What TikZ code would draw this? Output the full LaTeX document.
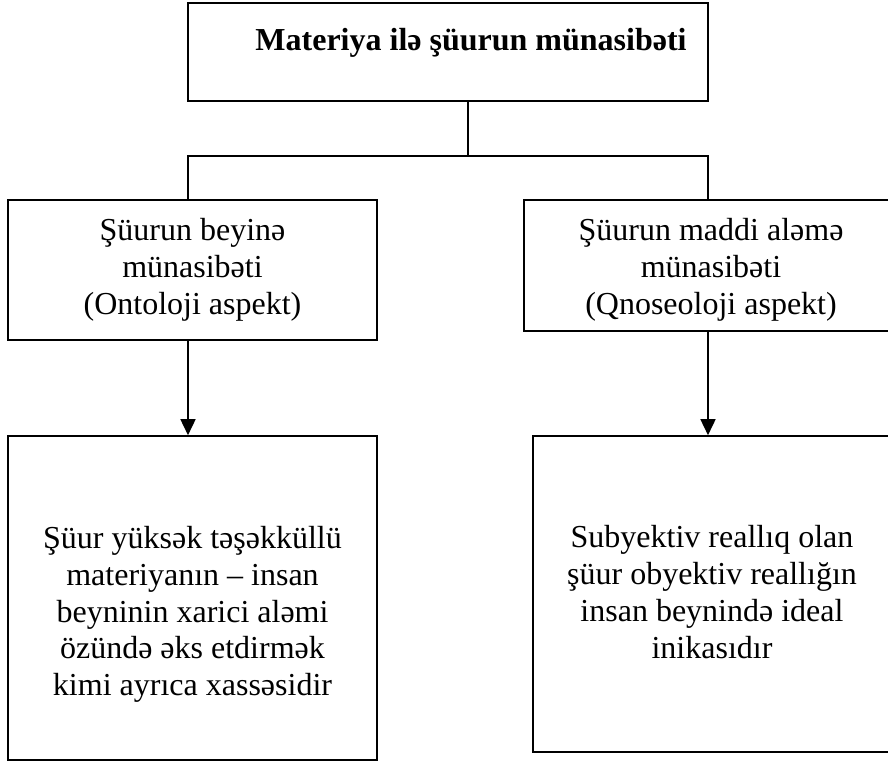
\documentclass[tikz,border=0pt]{standalone}
\usepackage{fontspec}
\setmainfont{Liberation Serif}
\usetikzlibrary{arrows.meta}
\begin{document}
\begin{tikzpicture}[x=1pt,y=-1pt,
  boxy/.style={draw, line width=1.6pt, inner sep=0pt},
  txt/.style={align=center, inner sep=0pt, font=\fontsize{32}{36.8}\selectfont},
  conn/.style={line width=1.6pt},
  arr/.style={line width=1.6pt, -{Triangle[length=16pt,width=15pt]}}]
\useasboundingbox (0,0) rectangle (888,761);
% boxes
\node[boxy, minimum width=520pt, minimum height=98pt] (top) at (448,52) {};
\node[boxy, minimum width=369pt, minimum height=140pt] (ml) at (192.5,270) {};
\node[boxy, minimum width=368pt, minimum height=131pt] (mr) at (708,265.5) {};
\node[boxy, minimum width=369pt, minimum height=324pt] (bl) at (192.5,598) {};
\node[boxy, minimum width=360pt, minimum height=316pt] (br) at (713,594) {};
% texts
\node[anchor=base, inner sep=0pt, font=\bfseries\fontsize{32}{38}\selectfont] (title) at (471,50) {Materiya ilə şüurun münasibəti};
\node[txt] (tml) at (192.5,270) {Şüurun beyinə\\münasibəti\\(Ontoloji aspekt)};
\node[txt] (tmr) at (711,270) {Şüurun maddi aləmə\\münasibəti\\(Qnoseoloji aspekt)};
\node[txt] (tbl) at (192.5,614.5) {Şüur yüksək təşəkküllü\\materiyanın – insan\\beyninin xarici aləmi\\özündə əks etdirmək\\kimi ayrıca xassəsidir};
\node[txt] (tbr) at (712,592) {Subyektiv reallıq olan\\şüur obyektiv reallığın\\insan beynində ideal\\inikasıdır};
% connectors
\coordinate (j) at (468,156);
\coordinate (cl) at (188,156);
\coordinate (cr) at (708,156);
\draw[conn] (top.south -| j) -- (j);
\draw[conn] (cl |- ml.north) -- (cl) -- (cr) -- (cr |- mr.north);
\draw[arr] (cl |- ml.south) -- (cl |- bl.north);
\draw[arr] (cr |- mr.south) -- (cr |- br.north);
\end{tikzpicture}
\end{document}
